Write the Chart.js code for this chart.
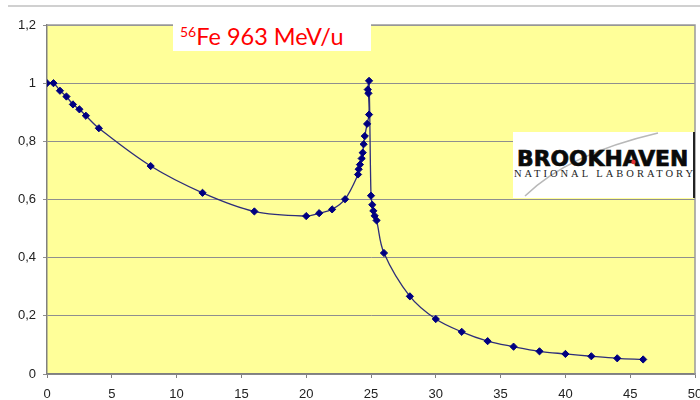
<!DOCTYPE html>
<html>
<head>
<meta charset="utf-8">
<script src="https://cdn.jsdelivr.net/npm/chart.js@4.4.1/dist/chart.umd.min.js"></script>
<style>
  html, body { margin: 0; padding: 0; background: #fff; }
  #wrap { position: relative; width: 700px; height: 400px; overflow: hidden; }
  #topRule { position: absolute; left: 8px; top: 5px; width: 692px; height: 2px; background: #d0d0d0; }
  #title {
    position: absolute; left: 173px; top: 22px; width: 198px; height: 29px;
    background: #fff; color: #ff0000; font-family: Lato, "Open Sans", sans-serif;
    font-size: 23.5px; line-height: 29px; white-space: nowrap; padding-left: 7px; box-sizing: border-box;
  }
  #title sup { font-size: 14px; vertical-align: 0; position: relative; top: -8px; }
  #logo {
    position: absolute; left: 513px; top: 132px; width: 182px; height: 66px;
    background: #fff; border-right: 2px solid #222; box-sizing: border-box; overflow: hidden;
  }
  #logo svg { position: absolute; left: 0; top: 0; }
  #logo .big {
    position: absolute; left: 4px; top: 15px; font-family: "DejaVu Sans", sans-serif; font-weight: 900;
    font-size: 21px; line-height: 24px; color: #0a0a0a; white-space: nowrap;
    -webkit-text-stroke: 0.7px #0a0a0a;
    transform-origin: left top; transform: scaleX(1.04);
  }
  #logo .small {
    position: absolute; left: 1px; top: 36px; font-family: "Liberation Serif", serif;
    font-size: 10.5px; line-height: 12px; color: #222; letter-spacing: 3px; white-space: nowrap;
  }
</style>
</head>
<body>
<div id="wrap">
  <canvas id="c" width="700" height="400"></canvas>
  <div id="topRule"></div>
  <div id="title"><sup>56</sup>Fe 963 MeV/u</div>
  <div id="logo">
    <svg width="182" height="66" viewBox="0 0 182 66">
      <path d="M 12 64 Q 55 22 145 1" fill="none" stroke="#b8b8b8" stroke-width="1.5"/>
    </svg>
    <div class="big">BROOKHAVEN</div>
    <div class="small">NATIONAL LABORATORY</div>
    <svg width="182" height="66" viewBox="0 0 182 66">
      <circle cx="120.5" cy="30" r="2.2" fill="#e03030"/>
    </svg>
  </div>
</div>
<script>
// Depth in absorber (cm) and normalised dose along the beam
const depth = [0, 0.5, 1, 1.5, 2, 2.5, 3, 4, 8, 12, 16, 20, 21, 22, 23,
  24, 24.05, 24.15, 24.28, 24.36, 24.43, 24.52, 24.7, 24.85, 24.8, 24.75, 24.85,
  25.0, 25.1, 25.18, 25.28, 25.43, 26, 28, 30, 32, 34, 36, 38, 40, 42, 44, 46];
const dose = [1.0, 1.0, 0.974, 0.954, 0.927, 0.91, 0.888, 0.845, 0.715, 0.623, 0.559, 0.543, 0.553, 0.566, 0.601,
  0.686, 0.704, 0.72, 0.741, 0.761, 0.79, 0.818, 0.86, 0.892, 0.965, 0.978, 1.008,
  0.613, 0.582, 0.561, 0.544, 0.528, 0.416, 0.267, 0.189, 0.145, 0.113, 0.094, 0.078, 0.069, 0.061, 0.054, 0.05];

const xTickValues = [0, 5, 10, 15, 20, 25, 30, 35, 40, 45, 50];
const yTickValues = [0, 0.2, 0.4, 0.6, 0.8, 1.0, 1.2];
const yTickLabels = ['0', '0,2', '0,4', '0,6', '0,8', '1', '1,2'];

const points = depth.map((d, i) => ({ x: d, y: dose[i] }));

// Yellow plot background and grey frame around the plotting area
const plotFrame = {
  id: 'plotFrame',
  beforeDraw(chart) {
    const { ctx, chartArea: a } = chart;
    ctx.save();
    ctx.fillStyle = '#FFFF99';
    ctx.fillRect(a.left, a.top, a.right - a.left, a.bottom - a.top);
    ctx.restore();
  },
  afterDatasetsDraw(chart) {
    const { ctx, chartArea: a } = chart;
    ctx.save();
    ctx.strokeStyle = '#9a9a9a';
    ctx.lineWidth = 1.5;
    ctx.beginPath();
    ctx.moveTo(a.left, a.top);
    ctx.lineTo(a.right, a.top);
    ctx.lineTo(a.right, a.bottom);
    ctx.stroke();
    ctx.restore();
  }
};

const tickFont = { family: '"Liberation Sans", Arial, sans-serif', size: 13 };

new Chart(document.getElementById('c'), {
  type: 'scatter',
  data: {
    datasets: [{
      data: points,
      showLine: true,
      tension: 0.35,
      borderColor: '#2e2e7a',
      borderWidth: 1.3,
      pointStyle: 'rectRot',
      pointRadius: 3.6,
      pointBorderWidth: 1,
      pointBackgroundColor: '#000080',
      pointBorderColor: '#000080'
    }]
  },
  options: {
    responsive: false,
    animation: false,
    devicePixelRatio: 1,
    layout: { padding: { top: 25, right: 3, left: 0, bottom: 0 } },
    plugins: { legend: { display: false }, tooltip: { enabled: false } },
    scales: {
      x: {
        type: 'linear', min: 0, max: 50,
        afterBuildTicks(s) { s.ticks = xTickValues.map(v => ({ value: v })); },
        afterFit(s) { s.height = 26; s.paddingLeft = 0; s.paddingRight = 0; },
        ticks: { color: '#222', font: tickFont, padding: 9, maxRotation: 0, autoSkip: false },
        grid: { drawOnChartArea: false, drawTicks: true, tickLength: 4, color: '#808080' },
        border: { display: true, color: '#808080', width: 1.5 }
      },
      y: {
        type: 'linear', min: 0, max: 1.2,
        afterBuildTicks(s) { s.ticks = yTickValues.map(v => ({ value: v })); },
        afterFit(s) { s.width = 47; s.paddingTop = 0; s.paddingBottom = 0; },
        ticks: {
          color: '#222', font: tickFont, padding: 7, autoSkip: false,
          callback: (v, i) => yTickLabels[i]
        },
        grid: { color: '#8f8f8f', lineWidth: 1, drawTicks: true, tickLength: 4 },
        border: { display: true, color: '#808080', width: 1.5 }
      }
    }
  },
  plugins: [plotFrame]
});
</script>
</body>
</html>
